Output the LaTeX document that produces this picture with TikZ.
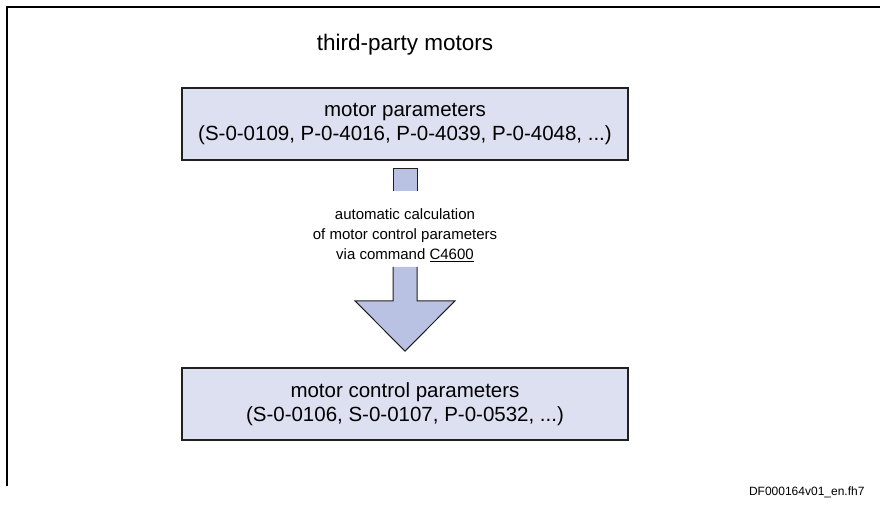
\documentclass[tikz,border=0pt]{standalone}
\usepackage{fontspec}
\setmainfont{Liberation Sans}
\usetikzlibrary{calc}
\definecolor{boxfill}{HTML}{DDE0F0}
\definecolor{arrowfill}{HTML}{B9C2E2}
\definecolor{edge}{HTML}{231F20}
\tikzset{
  parambox/.style={draw=edge, line width=1.6pt, fill=boxfill, minimum width=446pt, minimum height=72pt, inner sep=0pt, align=center, font=\fontsize{20.5}{23.5}\selectfont},
  arrowedge/.style={draw=edge, line width=1pt},
  frameline/.style={draw=black, line width=1.5pt}
}
\begin{document}
\begin{tikzpicture}[x=1pt,y=-1pt]
\useasboundingbox (0,0) rectangle (880,504);
\coordinate (fa) at (7,486);
\coordinate (fb) at (7,7);
\coordinate (fc) at (880,7);
\draw[frameline] (fa) -- (fb) -- (fc);
\node[font=\fontsize{22.5}{26}\selectfont] (title) at (405,45) {third-party motors};
\node[parambox] (top) at (405,124) {motor parameters\\(S-0-0109, P-0-4016, P-0-4039, P-0-4048, ...)};
\node[parambox] (bot) at (405,404) {motor control parameters\\(S-0-0106, S-0-0107, P-0-0532, ...)};
% upper part of the arrow (open at the bottom)
\coordinate (a1) at ($(top.south)+(-12,8)$);
\coordinate (a2) at ($(top.south)+(12,8)$);
\coordinate (a3) at ($(top.south)+(12,30)$);
\coordinate (a4) at ($(top.south)+(-12,30)$);
\fill[arrowfill] (a1) rectangle (a3);
\draw[arrowedge] (a4) -- (a1) -- (a2) -- (a3);
% lower part of the arrow (open at the top)
\coordinate (b1) at ($(top.south)+(-12,106)$);
\coordinate (b2) at ($(top.south)+(12,106)$);
\coordinate (b3) at ($(top.south)+(12,140)$);
\coordinate (b4) at ($(top.south)+(50,140)$);
\coordinate (tip) at ($(bot.north)+(0,-16)$);
\coordinate (b6) at ($(top.south)+(-50,140)$);
\coordinate (b7) at ($(top.south)+(-12,140)$);
\fill[arrowfill] (b1) -- (b2) -- (b3) -- (b4) -- (tip) -- (b6) -- (b7) -- cycle;
\draw[arrowedge] (b2) -- (b3) -- (b4) -- (tip) -- (b6) -- (b7) -- (b1);
\node[inner sep=0pt, align=center, font=\fontsize{15}{20}\selectfont] (calc) at (405,235) {automatic calculation\\of motor control parameters\\via command \underline{C4600}};
\node[anchor=east, font=\fontsize{12}{14}\selectfont] (code) at (868,492) {DF000164v01\_en.fh7};
\end{tikzpicture}
\end{document}
